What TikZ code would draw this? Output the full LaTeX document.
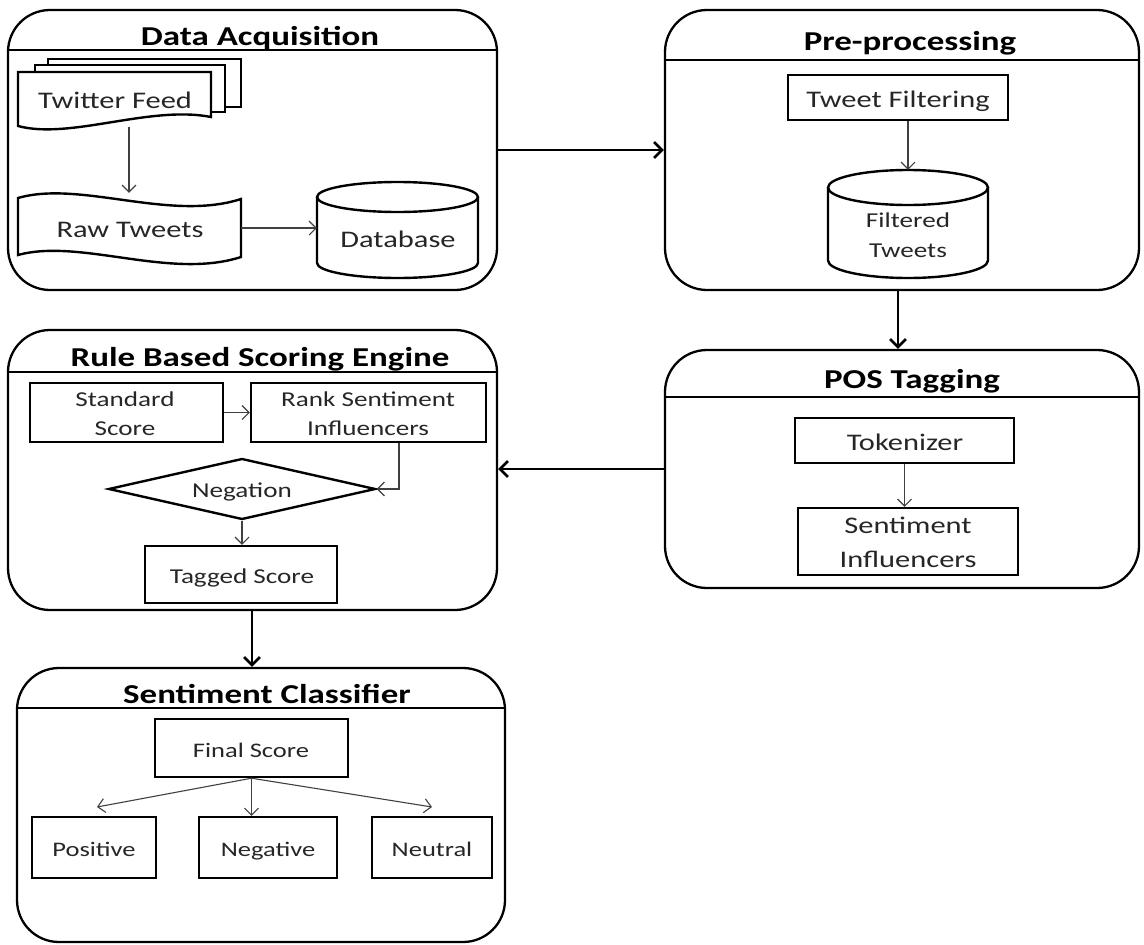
\documentclass[tikz,border=0pt]{standalone}
\usepackage{fontspec}
\setmainfont{Carlito}[FakeStretch=1.28]
\usetikzlibrary{arrows.meta,shapes.geometric}
\begin{document}
\begin{tikzpicture}[x=1pt,y=-1pt,
  container/.style={draw, line width=2.3pt, rounded corners=42pt, inner sep=0pt},
  sepline/.style={line width=1.5pt},
  ttl/.style={font=\bfseries\fontsize{27.3}{30}\selectfont, anchor=base, inner sep=0pt},
  txt/.style={font=\fontsize{23.8}{28}\selectfont, anchor=base, inner sep=0pt, text=black!85},
  mtxt/.style={font=\fontsize{21.2}{26}\selectfont, anchor=base, inner sep=0pt, text=black!85},
  stxt/.style={font=\fontsize{20.7}{26}\selectfont, anchor=base, inner sep=0pt, text=black!85},
  box/.style={draw, line width=2.4pt, inner sep=0pt},
  shp/.style={line width=2.4pt},
  hold/.style={inner sep=0pt, draw=none},
  thinarrow/.style={line width=1.1pt, draw=black!75, -{Straight Barb[length=7pt,width=14pt,line width=1.1pt]}},
  thickarrow/.style={line width=2.6pt, -{Straight Barb[length=8pt,width=16pt,line width=2.6pt]}}
]
\useasboundingbox (0,0) rectangle (1144,945);

% ---------- containers ----------
\node[container, minimum width=489, minimum height=280] (da) at (252.5,150) {};
\node[container, minimum width=474, minimum height=280] (pp) at (902,150) {};
\node[container, minimum width=474, minimum height=238] (pos) at (902,469) {};
\node[container, minimum width=489, minimum height=280] (rb) at (252.5,470) {};
\node[container, minimum width=488, minimum height=274] (sc) at (261,805) {};

\draw[sepline] (da.west |- 0,50) -- (da.east |- 0,50);
\draw[sepline] (pp.west |- 0,60) -- (pp.east |- 0,60);
\draw[sepline] (pos.west |- 0,397) -- (pos.east |- 0,397);
\draw[sepline] (rb.west |- 0,372) -- (rb.east |- 0,372);
\draw[sepline] (sc.west |- 0,708) -- (sc.east |- 0,708);

\node[ttl] (daT) at (260,45) {Data Acquisition};
\node[ttl] (ppT) at (910,50) {Pre-processing};
\node[ttl] (posT) at (912,388) {POS Tagging};
\node[ttl] (rbT) at (260,366) {Rule Based Scoring Engine};
\node[ttl] (scT) at (267,703) {Sentiment Classifier};

% ---------- Data Acquisition ----------
\draw[shp, fill=white] (48,59) rectangle (241,107);
\draw[shp, fill=white] (35,65) rectangle (225,112);
\draw[shp, fill=white] (18,72) -- (211,72) -- (211,117) .. controls (150,105) and (70,140) .. (18,126) -- cycle;
\node[hold, minimum width=193, minimum height=55] (tf) at (114.5,99.5) {};
\node[txt] (tfT) at (115,108) {Twitter Feed};

\draw[shp] (18,198) .. controls (80,180) and (170,222) .. (241,199) -- (241,257)
  .. controls (170,280) and (80,238) .. (18,255) -- cycle;
\node[hold, minimum width=223, minimum height=70] (rt) at (129.5,228) {};
\node[txt] (rtT) at (130,237) {Raw Tweets};

\draw[shp] (397.5,197) ellipse [x radius=80.5pt, y radius=15pt];
\draw[shp] (317,197) -- (317,263) arc[start angle=180, end angle=360, x radius=80.5pt, y radius=15pt] -- (478,197);
\node[hold, minimum width=161, minimum height=96] (db) at (397.5,230) {};
\node[txt] (dbT) at (398,247) {Database};

\draw[thinarrow] (tf.south -| 129,0) -- (rt.north -| 129,0);
\draw[thinarrow] (rt.east) -- (db.west |- rt.east);

% ---------- Pre-processing ----------
\node[box, minimum width=220, minimum height=45] (tfl) at (898,97.5) {};
\node[txt] (tflT) at (898,107) {Tweet Filtering};
\draw[shp] (908,187.5) ellipse [x radius=80pt, y radius=17.5pt];
\draw[shp] (828,187.5) -- (828,260.5) arc[start angle=180, end angle=360, x radius=80pt, y radius=17.5pt] -- (988,187.5);
\node[hold, minimum width=160, minimum height=108] (fc) at (908,224) {};
\node[mtxt] (fcT1) at (908,227) {Filtered};
\node[mtxt] (fcT2) at (908,257) {Tweets};
\draw[thinarrow] (tfl.south -| fc.north) -- (fc.north);

% ---------- POS Tagging ----------
\node[box, minimum width=219, minimum height=45] (tok) at (904.5,440.5) {};
\node[txt] (tokT) at (905,450) {Tokenizer};
\node[box, minimum width=220, minimum height=67] (si) at (908,541.5) {};
\node[txt] (siT1) at (908,533) {Sentiment};
\node[txt] (siT2) at (908,567) {Influencers};
\draw[thinarrow] (tok.south) -- (si.north -| tok.south);

% ---------- Rule Based Scoring Engine ----------
\node[box, minimum width=193, minimum height=59] (ss) at (126.5,412.5) {};
\node[mtxt] (ssT1) at (125,406) {Standard};
\node[mtxt] (ssT2) at (125,435) {Score};
\node[box, minimum width=235, minimum height=59] (rk) at (368.5,412.5) {};
\node[mtxt] (rkT1) at (368,406) {Rank Sentiment};
\node[mtxt] (rkT2) at (368,435) {Influencers};
\node[draw, line width=2.4pt, shape=diamond, aspect=4.4, inner sep=0pt,
      minimum width=267, minimum height=61] (neg) at (242,489) {};
\node[mtxt] (negT) at (242,497) {Negation};
\node[box, minimum width=192, minimum height=57] (tg) at (241,574.5) {};
\node[mtxt] (tgT) at (242,583) {Tagged Score};
\draw[thinarrow] (ss.east) -- (rk.west);
\draw[thinarrow] (rk.south -| 399,0) |- (neg.east);
\draw[thinarrow] (neg.south) -- (tg.north -| neg.south);

% ---------- Sentiment Classifier ----------
\node[box, minimum width=193, minimum height=58] (fs) at (251.5,748) {};
\node[stxt] (fsT) at (251,757) {Final Score};
\node[box, minimum width=124, minimum height=61] (po) at (94,847.5) {};
\node[stxt] (poT) at (94,856) {Positive};
\node[box, minimum width=138, minimum height=61] (ng) at (268,847.5) {};
\node[stxt] (ngT) at (268,856) {Negative};
\node[box, minimum width=120, minimum height=61] (nu) at (432,847.5) {};
\node[stxt] (nuT) at (432,856) {Neutral};
\coordinate (pa) at (97,807);
\coordinate (na) at (432,807);
\draw[thinarrow] (fs.south) -- (pa);
\draw[thinarrow] (fs.south) -- (ng.north -| fs.south);
\draw[thinarrow] (fs.south) -- (na);

% ---------- main flow ----------
\draw[thickarrow] (da.east) -- (pp.west);
\draw[thickarrow] (pp.south -| 898,0) -- (pos.north -| 898,0);
\draw[thickarrow] (pos.west) -- (rb.east |- pos.west);
\draw[thickarrow] (rb.south -| 252,0) -- (sc.north -| 252,0);
\end{tikzpicture}
\end{document}
